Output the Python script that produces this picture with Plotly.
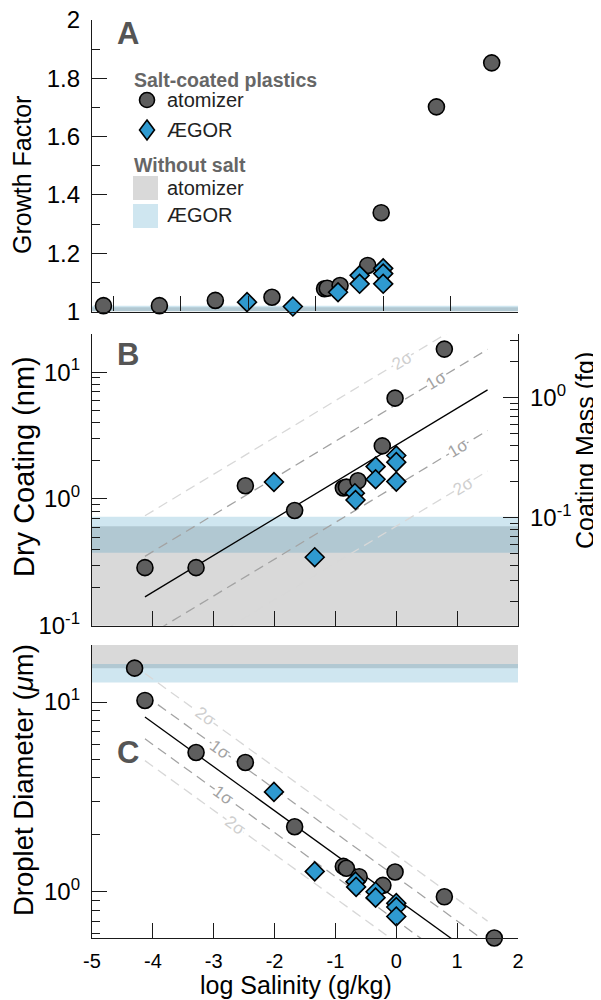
import numpy as np
import plotly.graph_objects as go

# ---------------- data ----------------
# Panel A - growth factor
gf_atom_x = [-4.15, -3.32, -2.49, -1.65, -0.87, -0.83, -0.64, -0.23, -0.03, 0.79, 1.61]
gf_atom_y = [1.020, 1.020, 1.038, 1.049, 1.078, 1.080, 1.089, 1.158, 1.339, 1.702, 1.853]
gf_aegor_x = [-2.02, -1.34, -0.67, -0.35, -0.35, 0.00, 0.00, 0.00]
gf_aegor_y = [1.032, 1.017, 1.066, 1.124, 1.095, 1.148, 1.130, 1.095]

# Panel B - dry coating (nm)
dc_atom_x = [-4.13, -3.29, -2.48, -1.67, -0.87, -0.82, -0.63, -0.23, -0.02, 0.79, 1.61]
dc_atom_y = [0.287, 0.287, 1.27, 0.81, 1.22, 1.24, 1.39, 2.62, 6.24, 15.2, 20.3]
dc_aegor_x = [-2.01, -1.34, -0.68, -0.67, -0.34, -0.34, 0.00, 0.00, 0.00]
dc_aegor_y = [1.36, 0.347, 1.11, 0.98, 1.80, 1.43, 2.20, 1.95, 1.37]

# Panel C - droplet diameter (um)
dd_atom_x = [-4.30, -4.13, -3.29, -2.48, -1.67, -0.87, -0.82, -0.61, -0.22, -0.02, 0.79, 1.61]
dd_atom_y = [15.1, 10.2, 5.42, 4.80, 2.20, 1.36, 1.33, 1.20, 1.08, 1.27, 0.94, 0.57]
dd_aegor_x = [-2.01, -1.34, -0.67, -0.66, -0.34, -0.34, 0.00, 0.00, 0.00]
dd_aegor_y = [3.36, 1.28, 1.13, 1.06, 1.00, 0.93, 0.87, 0.83, 0.74]

# "Without salt" bands [low, high]
gf_band_atom = [1.000, 1.015]
gf_band_aegor = [1.000, 1.020]
dc_band_atom = [0.05, 0.61]
dc_band_aegor = [0.377, 0.724]
dd_band_atom = [15.1, 30.0]
dd_band_aegor = [12.7, 15.9]

# log-linear fits: log10(y) = intercept + slope*x ; sigma in log10 units
fit_x = [-4.13, 1.50]
dc_fit = dict(slope=0.29, intercept=0.425, sigma=0.32)
dd_fit = dict(slope=-0.232, intercept=-0.037, sigma=0.115)
dc_sigma_label_x = {2: 0.10, 1: 0.656, -1: 1.01, -2: 1.09}
dd_sigma_label_x = {2: -3.14, 1: -2.90, -1: -2.84, -2: -2.65}

# ticks
x_ticks = [-5, -4, -3, -2, -1, 0, 1, 2]
gf_ticks = [1, 1.2, 1.4, 1.6, 1.8, 2]
gf_ticktext = ["1", "1.2", "1.4", "1.6", "1.8", "2"]
log_ticks = [0.1, 1, 10]
log_ticktext = ["10<sup>-1</sup>", "10<sup>0</sup>", "10<sup>1</sup>"]
mass_ticks = [0.1, 1]
mass_ticktext = ["10<sup>-1</sup>", "10<sup>0</sup>"]

# ---------------- layout helpers ----------------
# the page body has an 8px margin, so the figure starts at (8, 8) of the window
OFF = 8
W, H = 593, 992
ML, MR, MT, MB = 84, 83, 12, 62
FONT = "Liberation Sans, Arial, Helvetica, sans-serif"
ATOM_COLOR = "#5e5e5e"
AEGOR_COLOR = "#2f9ad0"
GRAY_BAND = "rgba(0,0,0,0.15)"
BLUE_BAND = "rgba(30,136,184,0.21)"
AXC = "#1a1a1a"


def px2x(px):
    return (px - OFF - ML) / (W - ML - MR)


def px2y(py):
    return (H - MB - (py - OFF)) / (H - MT - MB)


def minor_log(lo, hi):
    vals = []
    for d in range(-3, 3):
        for m in range(2, 10):
            v = m * 10.0 ** d
            if lo <= v <= hi:
                vals.append(v)
    return vals


marker_atom = dict(symbol="circle", size=16, color=ATOM_COLOR,
                   line=dict(color="black", width=1.6))
marker_aegor = dict(symbol="diamond", size=14.5, color=AEGOR_COLOR,
                    line=dict(color="black", width=1.6))

fig = go.Figure()

# ---------------- fit lines ----------------
def add_fit(fit, xa, ya):
    xs = np.array(fit_x)
    styles = {0: ("black", None), 1: ("#a3a3a3", "10px,6px"), -1: ("#a3a3a3", "10px,6px"),
              2: ("#d8d8d8", "10px,6px"), -2: ("#d8d8d8", "10px,6px")}
    for k in [2, -2, 1, -1, 0]:
        col, dash = styles[k]
        ys = 10 ** (fit["intercept"] + fit["slope"] * xs + k * fit["sigma"])
        fig.add_trace(go.Scatter(x=xs, y=ys, mode="lines", xaxis=xa, yaxis=ya,
                                 line=dict(color=col, width=1.3, dash=dash),
                                 showlegend=False, hoverinfo="skip"))


add_fit(dc_fit, "x2", "y2")
add_fit(dd_fit, "x3", "y3")

# ---------------- markers ----------------
for xa, ya, ax_, ay_, bx_, by_ in [
    ("x", "y", gf_atom_x, gf_atom_y, gf_aegor_x, gf_aegor_y),
    ("x2", "y2", dc_atom_x, dc_atom_y, dc_aegor_x, dc_aegor_y),
    ("x3", "y3", dd_atom_x, dd_atom_y, dd_aegor_x, dd_aegor_y),
]:
    fig.add_trace(go.Scatter(x=ax_, y=ay_, mode="markers", xaxis=xa, yaxis=ya,
                             marker=marker_atom, cliponaxis=False, showlegend=False,
                             name="atomizer"))
    fig.add_trace(go.Scatter(x=bx_, y=by_, mode="markers", xaxis=xa, yaxis=ya,
                             marker=marker_aegor, cliponaxis=False, showlegend=False,
                             name="ÆGOR"))

# right axis of panel B (coating mass)
fig.add_trace(go.Scatter(x=[None], y=[None], xaxis="x2", yaxis="y4",
                         showlegend=False, hoverinfo="skip"))

# ---------------- bands (shape coords are data values) ----------------
shapes = []
for xr, yr, band, col in [
    ("x", "y", gf_band_atom, GRAY_BAND),
    ("x", "y", gf_band_aegor, BLUE_BAND),
    ("x2", "y2", dc_band_atom, GRAY_BAND),
    ("x2", "y2", dc_band_aegor, BLUE_BAND),
    ("x3", "y3", dd_band_atom, GRAY_BAND),
    ("x3", "y3", dd_band_aegor, BLUE_BAND),
]:
    shapes.append(dict(type="rect", xref=xr + " domain", yref=yr, x0=0, x1=1,
                       y0=band[0], y1=band[1], fillcolor=col, line=dict(width=0),
                       layer="below"))

# ---------------- legend (drawn) ----------------
shapes.append(dict(type="circle", xref="paper", yref="paper", xsizemode="pixel",
                   ysizemode="pixel", xanchor=px2x(147), yanchor=px2y(100),
                   x0=-7.5, x1=7.5, y0=-7.5, y1=7.5, fillcolor=ATOM_COLOR,
                   line=dict(color="black", width=1.6)))
shapes.append(dict(type="path", xref="paper", yref="paper", xsizemode="pixel",
                   ysizemode="pixel", xanchor=px2x(147), yanchor=px2y(130),
                   path="M0,10 L7.5,0 L0,-10 L-7.5,0 Z", fillcolor=AEGOR_COLOR,
                   line=dict(color="black", width=1.6)))
shapes.append(dict(type="rect", xref="paper", yref="paper", x0=px2x(133), x1=px2x(158),
                   y0=px2y(200), y1=px2y(176), fillcolor=GRAY_BAND, line=dict(width=0)))
shapes.append(dict(type="rect", xref="paper", yref="paper", x0=px2x(133), x1=px2x(158),
                   y0=px2y(228), y1=px2y(204), fillcolor=BLUE_BAND, line=dict(width=0)))

annotations = []


def ann_px(text, px, py, size, color="black", bold=False, xanchor="left", angle=0):
    annotations.append(dict(text=("<b>%s</b>" % text) if bold else text,
                            xref="paper", yref="paper", x=px2x(px), y=px2y(py),
                            xanchor=xanchor, yanchor="middle", showarrow=False,
                            textangle=angle, font=dict(family=FONT, size=size, color=color)))


ann_px("Salt-coated plastics", 132, 80, 19.5, "#666666", bold=True)
ann_px("atomizer", 165, 100, 20, "#222222")
ann_px("ÆGOR", 165, 130, 20, "#222222")
ann_px("Without salt", 132, 165, 19.5, "#666666", bold=True)
ann_px("atomizer", 165, 188, 20, "#222222")
ann_px("ÆGOR", 165, 215, 20, "#222222")

# panel letters
ann_px("A", 128, 34, 31, "#555555", bold=True, xanchor="center")
ann_px("B", 128, 354, 31, "#555555", bold=True, xanchor="center")
ann_px("C", 128, 752, 31, "#555555", bold=True, xanchor="center")

# axis titles
ann_px("Growth Factor", 22, 175, 25, xanchor="center", angle=-90)
ann_px("Dry Coating (nm)", 24, 467, 29, xanchor="center", angle=-90)
ann_px("Droplet Diameter (<i>μ</i>m)", 23, 780, 27.5, xanchor="center", angle=-90)
ann_px("Coating Mass (fg)", 585, 451, 25, xanchor="center", angle=-90)
ann_px("log Salinity (g/kg)", 296, 985, 25, xanchor="center")

# sigma labels (annotation coords on log axes are log10 values)
for fit, labx, xr, yr, ang in [(dc_fit, dc_sigma_label_x, "x2", "y2", -31),
                               (dd_fit, dd_sigma_label_x, "x3", "y3", 36)]:
    for k, xv in labx.items():
        ly = fit["intercept"] + fit["slope"] * xv + k * fit["sigma"]
        annotations.append(dict(text="%dσ" % abs(k), xref=xr, yref=yr, x=xv, y=ly,
                                showarrow=False, textangle=ang, bgcolor="white",
                                borderpad=0,
                                font=dict(family=FONT, size=17,
                                          color="#a3a3a3" if abs(k) == 1 else "#cfcfcf")))

# ---------------- axes ----------------
common = dict(showline=True, linecolor=AXC, linewidth=1.4, ticks="inside", ticklen=15,
              tickwidth=1.3, tickcolor=AXC, showgrid=False, zeroline=False,
              automargin=False, ticklabeloverflow="allow",
              tickfont=dict(family=FONT, size=24, color="black"))
xcommon = dict(common, tickvals=x_ticks, tickfont=dict(family=FONT, size=20, color="black"))

dA = [px2y(311.5), 1.0]
dB = [px2y(625.7), px2y(334)]
dC = [0.0, px2y(645)]

fig.update_layout(
    template="none",
    width=W, height=H, margin=dict(l=ML, r=MR, t=MT, b=MB, autoexpand=False),
    paper_bgcolor="white", plot_bgcolor="rgba(0,0,0,0)",
    font=dict(family=FONT, color="black"),
    showlegend=False,
    xaxis=dict(xcommon, domain=[0, 1], anchor="y", range=[-4.32, 2], showticklabels=False),
    xaxis2=dict(xcommon, domain=[0, 1], anchor="y2", range=[-5, 2], showticklabels=False),
    xaxis3=dict(xcommon, domain=[0, 1], anchor="y3", range=[-5, 2],
                ticktext=[str(v) for v in x_ticks], ticklabelstandoff=5),
    yaxis=dict(common, domain=dA, anchor="x", range=[1, 2], tickvals=gf_ticks,
               ticktext=gf_ticktext, ticklabelstandoff=6,
               minor=dict(dtick=0.1, tick0=1, ticks="inside", ticklen=8, tickwidth=1.3,
                          tickcolor=AXC, showgrid=False)),
    yaxis2=dict(common, domain=dB, anchor="x2", type="log", range=[-1, np.log10(20)],
                tickvals=log_ticks, ticktext=log_ticktext, ticklabelstandoff=6,
                minor=dict(tickmode="array", tickvals=minor_log(0.1, 20), ticks="inside",
                           ticklen=8, tickwidth=1.3, tickcolor=AXC, showgrid=False)),
    yaxis4=dict(common, overlaying="y2", anchor="x2", side="right", type="log",
                range=[-1.9, 0.531], tickvals=mass_ticks, ticktext=mass_ticktext,
                ticklabelstandoff=6,
                minor=dict(tickmode="array", tickvals=minor_log(0.0126, 3.4), ticks="inside",
                           ticklen=8, tickwidth=1.3, tickcolor=AXC, showgrid=False)),
    yaxis3=dict(common, domain=dC, anchor="x3", type="log",
                range=[np.log10(0.57), np.log10(20)],
                tickvals=log_ticks[1:], ticktext=log_ticktext[1:], ticklabelstandoff=6,
                minor=dict(tickmode="array", tickvals=minor_log(0.57, 20), ticks="inside",
                           ticklen=8, tickwidth=1.3, tickcolor=AXC, showgrid=False)),
    shapes=shapes,
    annotations=annotations,
)

fig.write_html("out.html")
